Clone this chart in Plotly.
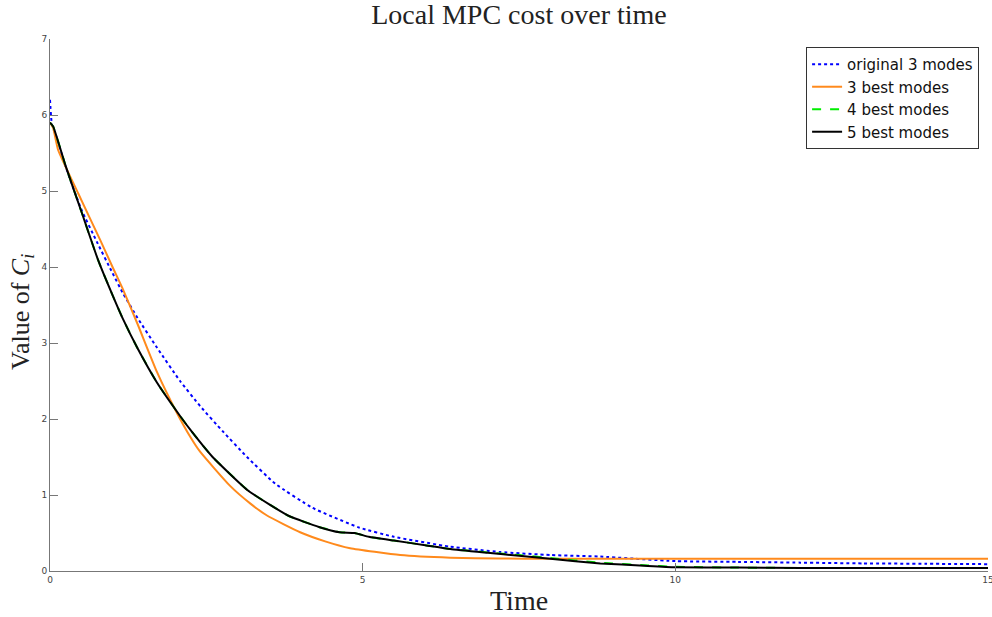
import plotly.graph_objects as go

# ---- data ----
t_orig = [0, 0.03, 0.1, 0.25, 0.5, 0.75, 1.0, 1.17, 1.4, 1.71, 2.08, 2.4, 2.76, 3.15,
          3.6, 4.2, 4.95, 5.5, 6.4, 7.2, 8.0, 8.8, 10, 11, 12, 13, 14, 15]
v_orig = [6.2, 5.88, 5.72, 5.32, 4.76, 4.33, 3.92, 3.65, 3.33, 2.94, 2.50, 2.17, 1.84, 1.50,
          1.15, 0.83, 0.57, 0.45, 0.32, 0.25, 0.21, 0.19, 0.13, 0.12, 0.11, 0.10, 0.095, 0.09]

t_best3 = [0, 0.05, 0.13, 0.45, 0.8, 1.0, 1.17, 1.4, 1.71, 2.03, 2.24, 2.4, 2.88, 3.2,
           3.47, 4.0, 4.4, 4.8, 5.6, 6.4, 7.2, 8.0, 9, 10, 12, 15]
v_best3 = [5.9, 5.83, 5.54, 4.97, 4.36, 4.0, 3.70, 3.25, 2.62, 2.08, 1.77, 1.57, 1.12, 0.89,
           0.73, 0.51, 0.39, 0.30, 0.21, 0.175, 0.165, 0.16, 0.16, 0.16, 0.16, 0.16]

t_best5 = [0, 0.05, 0.25, 0.51, 0.77, 1.0, 1.17, 1.4, 1.71, 2.08, 2.28, 2.6, 3.15, 3.5,
           3.83, 4.3, 4.63, 4.87, 5.1, 5.5, 6.0, 6.4, 7.0, 7.5, 8.0, 8.8, 9.5, 10, 11, 12,
           13, 14, 15]
v_best5 = [5.9, 5.85, 5.33, 4.71, 4.09, 3.63, 3.31, 2.93, 2.48, 2.04, 1.82, 1.50, 1.07, 0.88,
           0.72, 0.58, 0.51, 0.50, 0.45, 0.40, 0.34, 0.29, 0.24, 0.20, 0.16, 0.10, 0.07, 0.05,
           0.045, 0.04, 0.04, 0.04, 0.04]

t_best4 = t_best5
v_best4 = [5.9, 5.85, 5.33, 4.71, 4.09, 3.63, 3.31, 2.93, 2.48, 2.04, 1.82, 1.50, 1.07, 0.88,
           0.72, 0.58, 0.51, 0.50, 0.45, 0.40, 0.34, 0.29, 0.245, 0.21, 0.17, 0.11, 0.075, 0.055,
           0.045, 0.04, 0.04, 0.04, 0.04]

x_ticks = [0, 5, 10, 15]
y_ticks = [0, 1, 2, 3, 4, 5, 6, 7]

SERIF = "Liberation Serif"
SM = 0.45

fig = go.Figure()
fig.add_trace(go.Scatter(x=t_orig, y=v_orig, mode="lines", name="original 3 modes",
                         line=dict(color="#0000ff", width=2, dash="dot", shape="spline", smoothing=SM)))
fig.add_trace(go.Scatter(x=t_best3, y=v_best3, mode="lines", name="3 best modes",
                         line=dict(color="#ff8a1c", width=2, shape="spline", smoothing=SM)))
fig.add_trace(go.Scatter(x=t_best4, y=v_best4, mode="lines", name="4 best modes",
                         line=dict(color="#00ee00", width=2, dash="dash", shape="spline", smoothing=SM)))
fig.add_trace(go.Scatter(x=t_best5, y=v_best5, mode="lines", name="5 best modes",
                         line=dict(color="#000000", width=2, shape="spline", smoothing=SM)))

axis_common = dict(showgrid=False, zeroline=False, showline=True, linecolor="#777777",
                   linewidth=1, ticks="inside", ticklen=8, tickcolor="#777777",
                   ticklabeloverflow="allow", automargin=False,
                   tickfont=dict(family="DejaVu Sans", size=9, color="#444444"))

fig.update_layout(
    width=992, height=617,
    margin=dict(l=50, r=4, t=39, b=46),
    paper_bgcolor="white", plot_bgcolor="white",
    title=dict(text="Local MPC cost over time", x=(50 + 988) / 2 / 992, xanchor="center",
               y=1 - 14 / 617, yanchor="middle",
               font=dict(family=SERIF, size=28, color="#222222")),
    xaxis=dict(range=[0, 15], tickvals=x_ticks, **axis_common),
    yaxis=dict(range=[0, 7], tickvals=y_ticks, **axis_common),
    legend=dict(x=0.9905, y=0.985, xanchor="right", yanchor="top",
                bgcolor="white", bordercolor="#333333", borderwidth=1,
                font=dict(family="DejaVu Sans", size=15, color="#111111"),
                tracegroupgap=0, itemwidth=30),
    showlegend=True,
    annotations=[
        dict(text="Time", xref="paper", yref="paper", x=0.5, y=-(600 - 571) / 532,
             xanchor="center", yanchor="middle", showarrow=False,
             font=dict(family=SERIF, size=28, color="#222222")),
        dict(text="Value of <i>C</i><sub><i>i</i></sub>", xref="paper", yref="paper",
             x=-(50 - 22) / 938, y=(571 - 312) / 532, xanchor="center", yanchor="middle",
             textangle=-90, showarrow=False,
             font=dict(family=SERIF, size=26, color="#222222")),
    ],
)

fig.write_html("out.html")
